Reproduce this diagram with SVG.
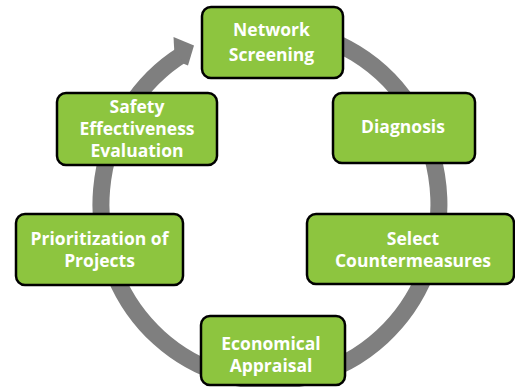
<svg xmlns="http://www.w3.org/2000/svg" width="515" height="387" viewBox="0 0 515 387">
<style>
.box{fill:#8dc53f;stroke:#000;stroke-width:2.5}
.lbl{font-family:"Open Sans","Liberation Sans",sans-serif;font-weight:bold;font-size:17.5px;fill:#fff;text-anchor:middle}
.ring{fill:none;stroke:#7f7f7f;stroke-width:17}
</style>
<rect width="515" height="387" fill="#fff"/>
<g id="connectors">
<path class="ring" d="M 284.7 29.7 A 169 176 0 1 1 183.0 54.1"/>
<polygon fill="#7f7f7f" points="174.2,49.6 173.5,37 194,45.5 188,65.5 183.6,63.8"/>
</g>
<g id="network-screening">
<rect class="box" x="202" y="7" width="141" height="71" rx="9"/>
<text class="lbl" x="271.5" y="36">Network</text>
<text class="lbl" x="271.5" y="61">Screening</text>
</g>
<g id="diagnosis">
<rect class="box" x="333" y="93" width="142" height="70" rx="9"/>
<text class="lbl" x="403" y="133">Diagnosis</text>
</g>
<g id="select-countermeasures">
<rect class="box" x="307" y="214" width="207" height="70" rx="9"/>
<text class="lbl" x="413" y="245">Select</text>
<text class="lbl" x="413" y="267">Countermeasures</text>
</g>
<g id="economical-appraisal">
<rect class="box" x="201" y="316" width="144" height="69" rx="9"/>
<text class="lbl" x="271" y="350">Economical</text>
<text class="lbl" x="271" y="372">Appraisal</text>
</g>
<g id="prioritization">
<rect class="box" x="16" y="214" width="167" height="71" rx="9"/>
<text class="lbl" x="99.5" y="245">Prioritization of</text>
<text class="lbl" x="99.5" y="267">Projects</text>
</g>
<g id="safety-evaluation">
<rect class="box" x="57" y="93" width="160" height="72" rx="9"/>
<text class="lbl" x="137" y="113">Safety</text>
<text class="lbl" x="137" y="135">Effectiveness</text>
<text class="lbl" x="137" y="157">Evaluation</text>
</g>
</svg>
